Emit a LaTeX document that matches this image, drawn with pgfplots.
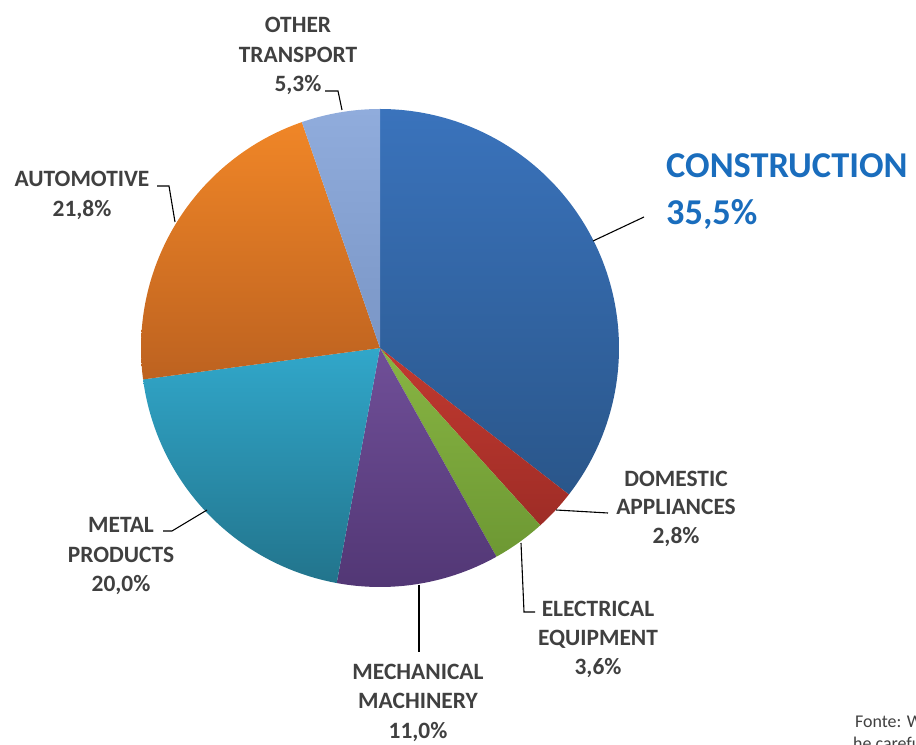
\documentclass[border=0pt]{standalone}
\usepackage{pgfplots}
\pgfplotsset{compat=1.18}
\usepackage{fontspec}
\setmainfont{Carlito}
\definecolor{txt}{HTML}{404040}
\definecolor{cblue}{HTML}{1A6DBD}
% slice colours (top / bottom)
\definecolor{conT}{HTML}{3A73BC}\definecolor{conB}{HTML}{2A568A}
\definecolor{domT}{HTML}{C23A30}\definecolor{domB}{HTML}{9E2C26}
\definecolor{eleT}{HTML}{88B543}\definecolor{eleB}{HTML}{6D9833}
\definecolor{mecT}{HTML}{704F98}\definecolor{mecB}{HTML}{523775}
\definecolor{metT}{HTML}{31A7CA}\definecolor{metB}{HTML}{22748C}
\definecolor{autT}{HTML}{F08627}\definecolor{autB}{HTML}{BD6220}
\definecolor{othT}{HTML}{90ACDC}\definecolor{othB}{HTML}{7A96C6}
% shares in percent, clockwise from 12 o'clock
\def\vCon{35.5}\def\vDom{2.8}\def\vEle{3.6}\def\vMec{11.0}
\def\vMet{20.0}\def\vAut{21.8}\def\vOth{5.3}
\pgfmathsetmacro\aA{90}
\pgfmathsetmacro\aB{\aA-3.6*\vCon}
\pgfmathsetmacro\aC{\aB-3.6*\vDom}
\pgfmathsetmacro\aD{\aC-3.6*\vEle}
\pgfmathsetmacro\aE{\aD-3.6*\vMec}
\pgfmathsetmacro\aF{\aE-3.6*\vMet}
\pgfmathsetmacro\aG{\aF-3.6*\vAut}
\pgfmathsetmacro\aH{\aG-3.6*\vOth}
\def\cx{380}\def\cy{-348}\def\R{239}
\newcommand\lbl[3]{\node[anchor=base,text=txt,font=\fontsize{23.5}{28}\selectfont\bfseries,inner sep=0pt] at (axis cs:#1,-#2) {#3};}
\begin{document}
\begin{tikzpicture}
\begin{axis}[width=916bp,height=745bp,scale only axis,
  xmin=0,xmax=916,ymin=-745,ymax=0,hide axis,clip=false]
\pgfplotsset{slice/.style={draw=none,domain=#1,samples=90,smooth}}
\addplot[slice=\aB:\aA,top color=conT,bottom color=conB] ({\cx+\R*cos(x)},{\cy+\R*sin(x)}) -- (axis cs:\cx,\cy) -- cycle;
\addplot[slice=\aC:\aB,top color=domT,bottom color=domB] ({\cx+\R*cos(x)},{\cy+\R*sin(x)}) -- (axis cs:\cx,\cy) -- cycle;
\addplot[slice=\aD:\aC,top color=eleT,bottom color=eleB] ({\cx+\R*cos(x)},{\cy+\R*sin(x)}) -- (axis cs:\cx,\cy) -- cycle;
\addplot[slice=\aE:\aD,top color=mecT,bottom color=mecB] ({\cx+\R*cos(x)},{\cy+\R*sin(x)}) -- (axis cs:\cx,\cy) -- cycle;
\addplot[slice=\aF:\aE,top color=metT,bottom color=metB] ({\cx+\R*cos(x)},{\cy+\R*sin(x)}) -- (axis cs:\cx,\cy) -- cycle;
\addplot[slice=\aG:\aF,top color=autT,bottom color=autB] ({\cx+\R*cos(x)},{\cy+\R*sin(x)}) -- (axis cs:\cx,\cy) -- cycle;
\addplot[slice=\aH:\aG,top color=othT,bottom color=othB] ({\cx+\R*cos(x)},{\cy+\R*sin(x)}) -- (axis cs:\cx,\cy) -- cycle;
% leader lines
\draw[black,line width=1.1pt] (axis cs:593,-241) -- (axis cs:644,-217);
\draw[black,line width=1.1pt] (axis cs:556,-510) -- (axis cs:608,-513);
\draw[black,line width=1.1pt] (axis cs:521,-543) -- (axis cs:524,-612) -- (axis cs:535,-612);
\draw[black,line width=1.1pt] (axis cs:419,-585) -- (axis cs:419,-652);
\draw[black,line width=1.1pt] (axis cs:207,-510) -- (axis cs:172,-531) -- (axis cs:163,-531);
\draw[black,line width=1.1pt] (axis cs:175,-222) -- (axis cs:169,-186) -- (axis cs:157,-186);
\draw[black,line width=1.1pt] (axis cs:342,-110) -- (axis cs:338,-91) -- (axis cs:325,-91);
% labels
\node[anchor=base west,text=cblue,font=\fontsize{36.5}{42}\selectfont\bfseries,inner sep=0pt] at (axis cs:666,-178) {CONSTRUCTION};
\node[anchor=base west,text=cblue,font=\fontsize{36.5}{42}\selectfont\bfseries,inner sep=0pt] at (axis cs:666,-225) {35,5\%};
\lbl{298}{33}{OTHER}\lbl{298}{62.5}{TRANSPORT}\lbl{298}{92}{5,3\%}
\lbl{82}{187}{AUTOMOTIVE}\lbl{82}{217}{21,8\%}
\lbl{676}{487}{DOMESTIC}\lbl{676}{515}{APPLIANCES}\lbl{676}{544}{2,8\%}
\lbl{121}{533}{METAL}\lbl{121}{563}{PRODUCTS}\lbl{121}{592}{20,0\%}
\lbl{418}{680}{MECHANICAL}\lbl{418}{709}{MACHINERY}\lbl{418}{738}{11,0\%}
\lbl{598}{617}{ELECTRICAL}\lbl{598}{646}{EQUIPMENT}\lbl{598}{675}{3,6\%}
\node[anchor=base west,text=txt,font=\fontsize{18}{22}\selectfont,inner sep=0pt] at (axis cs:855,-727) {Fonte: Worldsteel};
\node[anchor=base west,text=txt,font=\fontsize{18}{22}\selectfont,inner sep=0pt] at (axis cs:853,-749) {he carefully};
\end{axis}
\pgfresetboundingbox
\useasboundingbox (current axis.south west) rectangle (current axis.north east);
\end{tikzpicture}
\end{document}
